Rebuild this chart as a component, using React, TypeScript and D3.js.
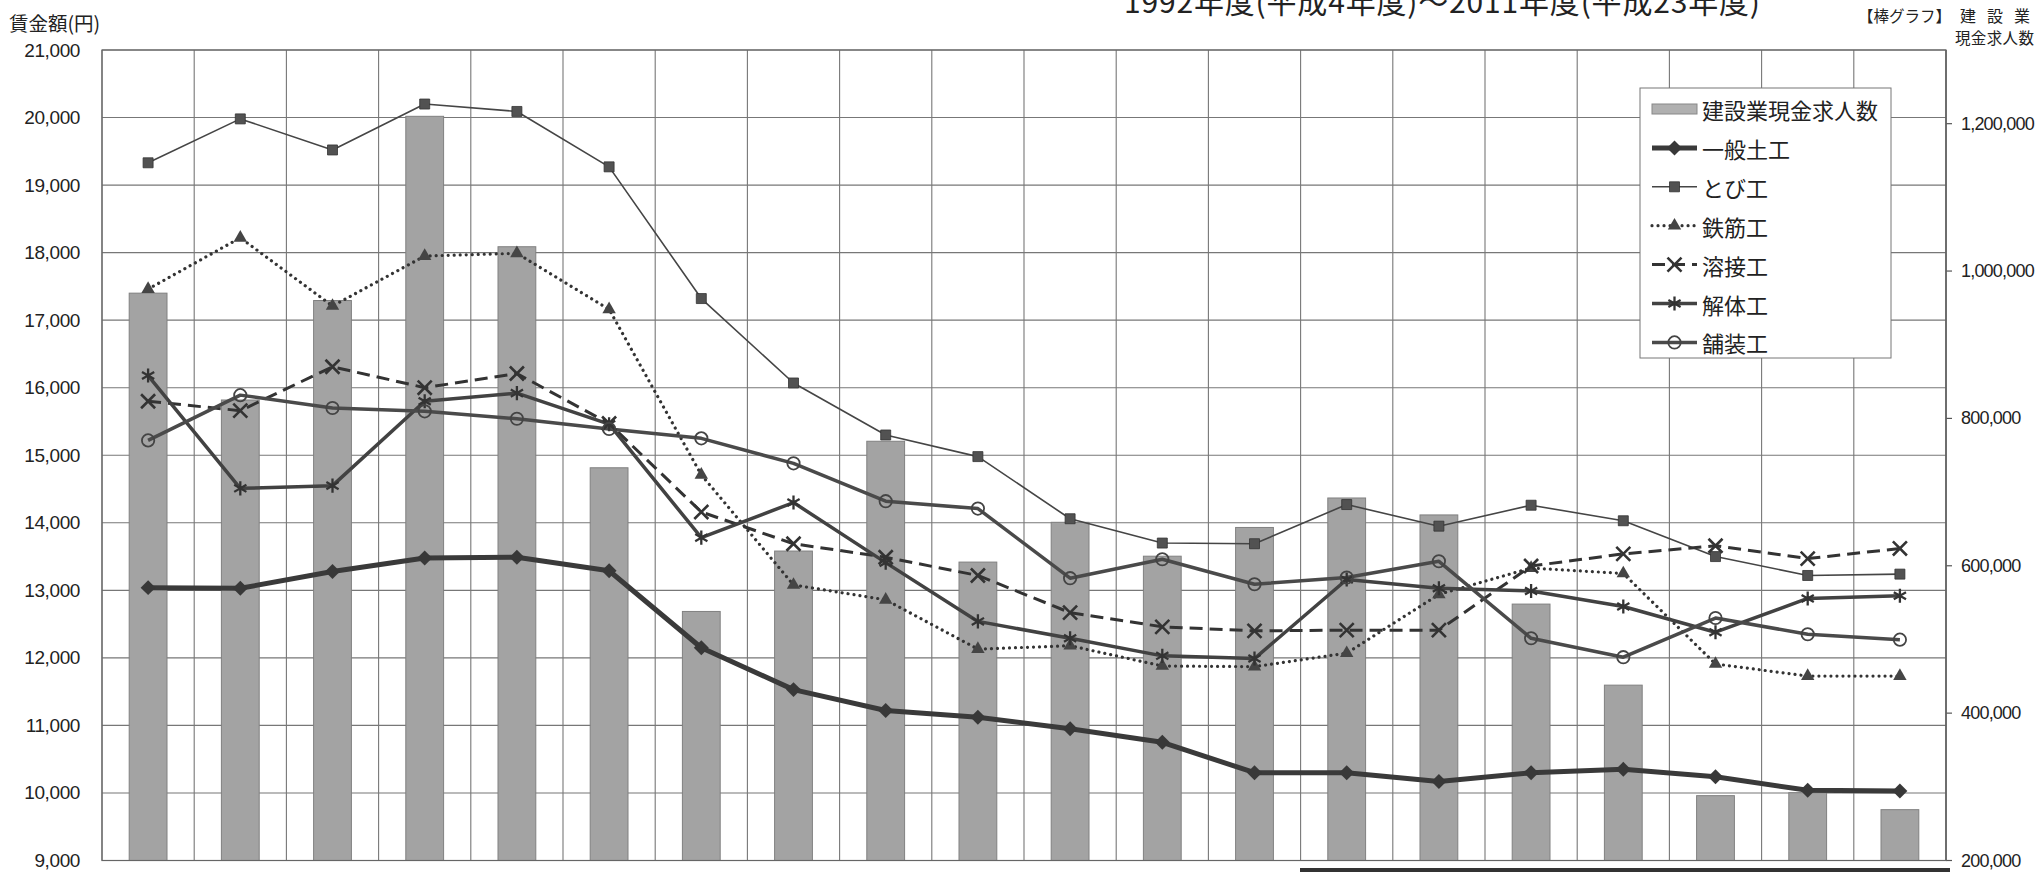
import * as d3 from 'd3';

// 年度 (1992-2011)
const years = ['1992', '1993', '1994', '1995', '1996', '1997', '1998', '1999', '2000', '2001',
  '2002', '2003', '2004', '2005', '2006', '2007', '2008', '2009', '2010', '2011'];

// 棒グラフ: 建設業現金求人数 (右軸)
const jobOffers = [970000, 825000, 960000, 1210000, 1033000, 733000, 538000, 620000, 769000, 605000,
  659000, 613000, 652000, 692000, 669000, 548000, 438000, 288000, 292000, 269000];

// 折れ線: 賃金額 (左軸, 円)
const doboku = [13040, 13030, 13280, 13480, 13490, 13290, 12150, 11530, 11220, 11120,
  10950, 10750, 10300, 10300, 10170, 10300, 10350, 10240, 10040, 10030];
const tobi = [19330, 19980, 19520, 20200, 20090, 19270, 17320, 16070, 15300, 14980,
  14060, 13700, 13690, 14270, 13950, 14260, 14030, 13500, 13220, 13240];
const tekkin = [17460, 18220, 17210, 17950, 17990, 17160, 14710, 13080, 12860, 12130,
  12180, 11880, 11870, 12070, 12940, 13330, 13250, 11910, 11730, 11730];
const yousetsu = [15800, 15660, 16310, 16000, 16210, 15470, 14160, 13690, 13490, 13220,
  12670, 12460, 12400, 12410, 12410, 13360, 13540, 13660, 13470, 13620];
const kaitai = [16180, 14510, 14550, 15800, 15920, 15460, 13780, 14300, 13410, 12540,
  12290, 12030, 11990, 13160, 13030, 12990, 12760, 12380, 12880, 12920];
const hosou = [15220, 15890, 15700, 15650, 15540, 15390, 15250, 14880, 14320, 14210,
  13180, 13460, 13090, 13190, 13430, 12290, 12010, 12590, 12350, 12270];

const leftTicks = [9000, 10000, 11000, 12000, 13000, 14000, 15000, 16000, 17000, 18000, 19000, 20000, 21000];
const rightTicks = [200000, 400000, 600000, 800000, 1000000, 1200000];

type Marker = 'diamond' | 'square' | 'triangle' | 'x' | 'asterisk' | 'circle';
interface Series {
  name: string;
  values: number[];
  stroke: string;
  width: number;
  dash?: string;
  cap?: 'round' | 'butt';
  marker: Marker;
}

const series: Series[] = [
  { name: '一般土工', values: doboku, stroke: '#3a3a3a', width: 5, marker: 'diamond' },
  { name: 'とび工', values: tobi, stroke: '#454545', width: 1.6, marker: 'square' },
  { name: '鉄筋工', values: tekkin, stroke: '#333', width: 3.2, dash: '0.01 6', cap: 'round', marker: 'triangle' },
  { name: '溶接工', values: yousetsu, stroke: '#333', width: 3, dash: '13 7', marker: 'x' },
  { name: '解体工', values: kaitai, stroke: '#424242', width: 3.5, marker: 'asterisk' },
  { name: '舗装工', values: hosou, stroke: '#4a4a4a', width: 3.5, marker: 'circle' },
];

const W = 2037;
const H = 872;
const plot = { left: 102, right: 1946, top: 50, bottom: 860.5 };

const numFont = '"Liberation Sans", Arial, sans-serif';
const jpFont = '"Noto Sans CJK JP", "Noto Sans", sans-serif';

function MarkerShape({ type, x, y }: { type: Marker; x: number; y: number }) {
  const t = `translate(${x},${y})`;
  switch (type) {
    case 'diamond':
      return <path transform={`${t} rotate(45)`} d={d3.symbol(d3.symbolSquare, 112)() || ''} fill="#383838" />;
    case 'square':
      return <path transform={t} d={d3.symbol(d3.symbolSquare, 100)() || ''} fill="#525252" stroke="#333" strokeWidth={0.8} />;
    case 'triangle':
      return <path transform={t} d={d3.symbol(d3.symbolTriangle, 78)() || ''} fill="#454545" />;
    case 'x':
      return <path transform={t} d={d3.symbol(d3.symbolTimes, 130)() || ''} fill="none" stroke="#333" strokeWidth={2.6} />;
    case 'asterisk':
      return <path transform={t} d={d3.symbol(d3.symbolAsterisk, 140)() || ''} fill="none" stroke="#333" strokeWidth={2.3} />;
    case 'circle':
      return <path transform={t} d={d3.symbol(d3.symbolCircle, 120)() || ''} fill="none" stroke="#444" strokeWidth={1.8} />;
  }
}

export default function App() {
  const x = d3.scaleBand<string>().domain(years).range([plot.left, plot.right]).padding(0);
  const bw = x.bandwidth();
  const cx = (i: number) => (x(years[i]) as number) + bw / 2;
  const yL = d3.scaleLinear().domain([9000, 21000]).range([plot.bottom, plot.top]);
  const yR = d3.scaleLinear().domain([200000, 1300000]).range([plot.bottom, plot.top]);
  const barW = bw * 0.41;
  const fmt = d3.format(',');

  const line = d3.line<number>().x((_, i) => cx(i)).y((d) => yL(d));

  // 凡例
  const lg = { x: 1640, y: 88, w: 251, h: 270, sw0: 1652, sw1: 1697, tx: 1702, y0: 109, step: 38.9 };

  return (
    <svg width={W} height={H} viewBox={`0 0 ${W} ${H}`}
      style={{ position: 'absolute', left: 0, top: 0, background: '#fff' }}>
      <rect x={0} y={0} width={W} height={H} fill="#fff" />

      {/* タイトル（上部で切れている） */}
      <text x={1124} y={13} fontFamily={jpFont} fontSize={30} fill="#222" textLength={636} lengthAdjust="spacing">
        1992年度(平成4年度)～2011年度(平成23年度)
      </text>
      <text x={9} y={22} fontFamily={jpFont} fontSize={19.5} fill="#222" dominantBaseline="central">賃金額(円)</text>
      <text x={1858} y={15} fontFamily={jpFont} fontSize={15.5} fill="#222" dominantBaseline="central">【棒グラフ】</text>
      <text x={1960} y={15} fontFamily={jpFont} fontSize={16} fill="#222" dominantBaseline="central"
        textLength={70} lengthAdjust="spacing">建設業</text>
      <text x={1955} y={37} fontFamily={jpFont} fontSize={15.5} fill="#222" dominantBaseline="central"
        textLength={79} lengthAdjust="spacing">現金求人数</text>

      {/* グリッド */}
      <g stroke="#777" strokeWidth={1.1}>
        {leftTicks.map((t) => (
          <line key={'h' + t} x1={plot.left} x2={plot.right} y1={yL(t)} y2={yL(t)} />
        ))}
        {years.map((yr) => (
          <line key={'v' + yr} x1={x(yr) as number} x2={x(yr) as number} y1={plot.top} y2={plot.bottom} />
        ))}
        <line x1={plot.right} x2={plot.right} y1={plot.top} y2={plot.bottom} />
      </g>

      {/* 左軸ラベル */}
      <g fontFamily={numFont} fontSize={19} fill="#222" textAnchor="end" letterSpacing={-0.4}>
        {leftTicks.map((t) => (
          <text key={'l' + t} x={80} y={yL(t)} dominantBaseline="central">{fmt(t)}</text>
        ))}
      </g>

      {/* 右軸 */}
      <g>
        <line x1={plot.right} x2={plot.right} y1={plot.top} y2={plot.bottom} stroke="#555" strokeWidth={1.2} />
        {rightTicks.map((t) => (
          <g key={'r' + t}>
            <line x1={plot.right} x2={plot.right + 6} y1={yR(t)} y2={yR(t)} stroke="#555" strokeWidth={1.2} />
            <text x={1961} y={yR(t)} fontFamily={numFont} fontSize={18} fill="#222" letterSpacing={-0.8}
              dominantBaseline="central">{fmt(t)}</text>
          </g>
        ))}
      </g>

      {/* 棒グラフ */}
      <g>
        {jobOffers.map((v, i) => (
          <rect key={'b' + i} x={cx(i) - barW / 2} y={yR(v)} width={barW} height={plot.bottom - yR(v)}
            fill="#a3a3a3" stroke="#808080" strokeWidth={1} />
        ))}
      </g>

      {/* 折れ線 */}
      {series.map((s) => (
        <path key={'p' + s.name} d={line(s.values) || ''} fill="none" stroke={s.stroke} strokeWidth={s.width}
          strokeDasharray={s.dash} strokeLinecap={s.cap || 'butt'} strokeLinejoin="round" />
      ))}
      {series.map((s) => (
        <g key={'m' + s.name}>
          {s.values.map((v, i) => <MarkerShape key={i} type={s.marker} x={cx(i)} y={yL(v)} />)}
        </g>
      ))}

      {/* 枠 */}
      <rect x={plot.left} y={plot.top} width={plot.right - plot.left} height={plot.bottom - plot.top}
        fill="none" stroke="#666" strokeWidth={1.2} />

      {/* 凡例 */}
      <g>
        <rect x={lg.x} y={lg.y} width={lg.w} height={lg.h} fill="#fff" stroke="#777" strokeWidth={1} />
        <rect x={lg.sw0} y={lg.y0 - 5} width={lg.sw1 - lg.sw0} height={10} fill="#b0b0b0" stroke="#888" strokeWidth={1} />
        <text x={lg.tx} y={lg.y0} fontFamily={jpFont} fontSize={22} fill="#222" dominantBaseline="central">建設業現金求人数</text>
        {series.map((s, k) => {
          const yy = lg.y0 + (k + 1) * lg.step;
          return (
            <g key={'lg' + s.name}>
              <line x1={lg.sw0} x2={lg.sw1} y1={yy} y2={yy} stroke={s.stroke} strokeWidth={s.width}
                strokeDasharray={s.dash} strokeLinecap={s.cap || 'butt'} />
              <MarkerShape type={s.marker} x={(lg.sw0 + lg.sw1) / 2} y={yy} />
              <text x={lg.tx} y={yy} fontFamily={jpFont} fontSize={22} fill="#222" dominantBaseline="central">{s.name}</text>
            </g>
          );
        })}
      </g>

      {/* 下部の表の罫線 */}
      <rect x={1300} y={868} width={650} height={4} fill="#333" />
    </svg>
  );
}
